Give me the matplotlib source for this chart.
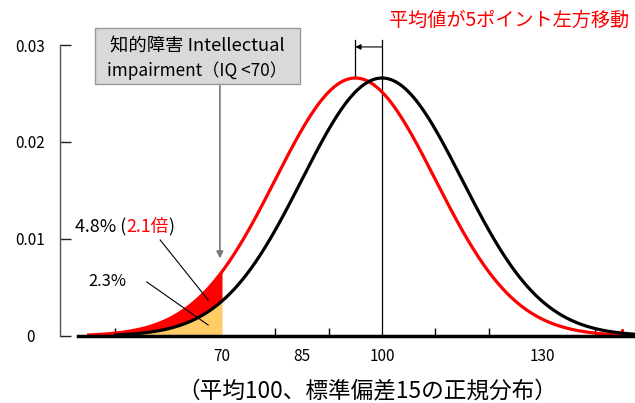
import matplotlib.pyplot as plt
import numpy as np

plt.rcParams['font.family'] = ['Noto Sans CJK JP', 'DejaVu Sans']

# distribution parameters
mean_before = 100
mean_after = 95
sd = 15
cut_iq = 70

x_ticks_minor = [50, 60, 70, 80, 90, 100, 110, 120, 130, 140]
x_labels = [70, 85, 100, 130]
y_ticks = [0, 0.01, 0.02, 0.03]
y_labels = ['0', '0.01', '0.02', '0.03']


def pdf(x, m, s):
    return np.exp(-0.5 * ((x - m) / s) ** 2) / (s * np.sqrt(2 * np.pi))


fig = plt.figure(figsize=(6.35, 4.03), dpi=100)
ax = fig.add_axes([0, 0, 1, 1])
ax.set_xlim(28.37, 147.44)
ax.set_ylim(-0.00691, 0.03464)
ax.patch.set_alpha(0)

x_black = np.linspace(mean_before - 50, mean_before + 50, 500)
x_red = np.linspace(mean_after - 50, mean_after + 50, 500)

# shaded tails
xf = np.linspace(mean_after - 50, cut_iq, 300)
black_f = np.where(xf >= mean_before - 50, pdf(xf, mean_before, sd), 0)
ax.fill_between(xf, black_f, pdf(xf, mean_after, sd), color='#FF0000', lw=0, zorder=2)
xo = np.linspace(mean_before - 50, cut_iq, 300)
ax.fill_between(xo, 0, pdf(xo, mean_before, sd), color='#FFCC66', lw=0, zorder=2)

ax.plot(x_red, pdf(x_red, mean_after, sd), color='#FF0000', lw=2.3, zorder=4)
ax.plot([x_red[-1], x_red[-1]], [0, 0.0006], color='#FF0000', lw=2, zorder=4)
ax.plot(x_black, pdf(x_black, mean_before, sd), color='black', lw=2.3, zorder=5)

# axes
ax.spines['top'].set_visible(False)
ax.spines['right'].set_visible(False)
ax.spines['left'].set_position(('data', 39.6))
ax.spines['left'].set_bounds(0, 0.03)
ax.spines['left'].set_color('#555555')
ax.spines['left'].set_linewidth(1)
ax.spines['bottom'].set_position(('data', 0))
ax.spines['bottom'].set_bounds(43, 147.44)
ax.spines['bottom'].set_linewidth(2.5)
ax.spines['bottom'].set_zorder(6)

ax.set_yticks(y_ticks)
ax.set_yticklabels(y_labels)
ax.tick_params(axis='y', direction='in', length=8, width=1, color='#222222',
               labelsize=11, pad=21.5)
for lab in ax.get_yticklabels():
    lab.set_horizontalalignment('center')
ax.set_xticks(x_labels)
ax.set_xticklabels([str(v) for v in x_labels])
ax.set_xticks(x_ticks_minor, minor=True)
ax.tick_params(axis='x', which='major', length=0, labelsize=11, pad=9)
ax.tick_params(axis='x', which='minor', direction='in', length=6, width=1)

# mean shift markers
ax.plot([mean_before, mean_before], [0, 0.0305], color='black', lw=0.9, zorder=3)
ax.plot([mean_after, mean_after], [pdf(mean_after, mean_after, sd), 0.0305],
        color='black', lw=0.9, zorder=3)
ax.annotate('', xy=(mean_after, 0.0298), xytext=(mean_before, 0.0298),
            arrowprops=dict(arrowstyle='-|>', color='black', lw=0.8,
                            mutation_scale=8, shrinkA=0, shrinkB=0))
ax.text(509 / 635, 1 - 20 / 403, '平均値が5ポイント左方移動', transform=ax.transAxes,
        color='#FF0000', fontsize=13.8, ha='center', va='center')

# box
box = plt.Rectangle((46.2, 0.02598), 38.4, 0.00577, facecolor='#D9D9D9',
                    edgecolor='#999999', lw=1, zorder=6)
ax.add_patch(box)
ax.text(65.4, 0.02995, '知的障害 Intellectual', fontsize=13.2, ha='center',
        va='center', zorder=7)
ax.text(65.4, 0.0274, 'impairment（IQ <70）', fontsize=12.4, ha='center',
        va='center', zorder=7)
ax.annotate('', xy=(69.6, 0.0080), xytext=(69.6, 0.02598),
            arrowprops=dict(arrowstyle='-|>', color='#777777', lw=1.2,
                            mutation_scale=10, shrinkA=0, shrinkB=0))

# percentage labels
fig.canvas.draw()
r = fig.canvas.get_renderer()
parts = [('4.8% (', 'black'), ('2.1倍', '#FF0000'), (')', 'black')]
xpos = 75 / 635
for s, c in parts:
    t = ax.text(xpos, 1 - 227 / 403, s, transform=ax.transAxes, color=c,
                fontsize=12.8, ha='left', va='center', zorder=7)
    bb = t.get_window_extent(renderer=r)
    xpos += bb.width / fig.bbox.width
ax.text(88 / 635, 1 - 282 / 403, '2.3%', transform=ax.transAxes, fontsize=11.8,
        ha='left', va='center', zorder=7)
ax.plot([58.4, 67.4], [0.0099, 0.00371], color='black', lw=0.8, zorder=7)
ax.plot([55.9, 67.4], [0.00557, 0.00113], color='black', lw=0.8, zorder=7)

ax.text(367 / 635, 1 - 391 / 403, '（平均100、標準偏差15の正規分布）',
        transform=ax.transAxes, fontsize=16.3, ha='center', va='center')

fig.savefig('out.png', dpi=100)
